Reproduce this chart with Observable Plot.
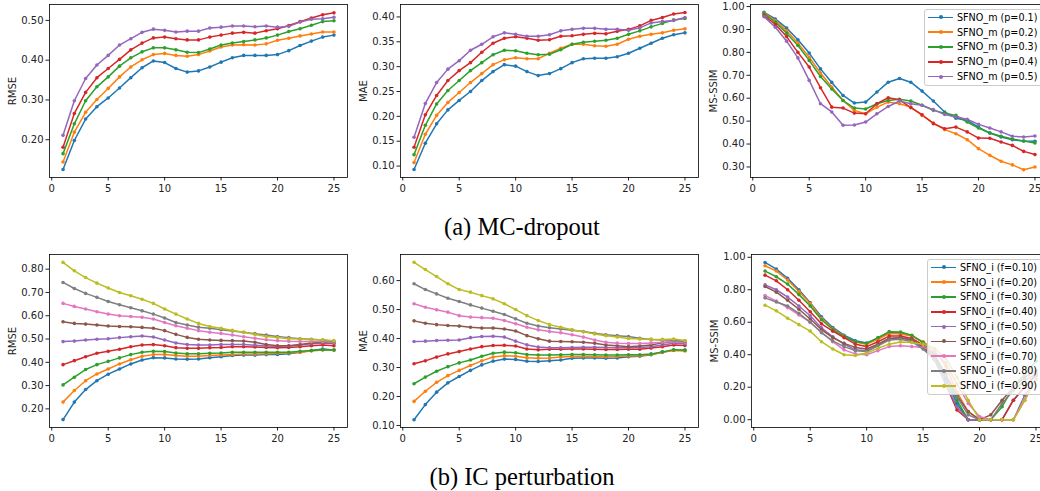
<!DOCTYPE html>
<html>
<head>
<meta charset="utf-8">
<script src="https://cdn.jsdelivr.net/npm/d3@7"></script>
<script src="https://cdn.jsdelivr.net/npm/@observablehq/plot@0.6"></script>
<style>
  html, body { margin: 0; padding: 0; background: #fff; }
  #fig { position: relative; width: 1040px; height: 491px; overflow: hidden; background: #fff; }
  .panel { position: absolute; }
  .legend { position: absolute; background: rgba(255,255,255,0.8); border: 1px solid #cccccc; border-radius: 3px;
            padding: 0px 12px 1px 3px; font-family: "DejaVu Sans", sans-serif; font-size: 9.6px; color: #000; }
  .lrow { display: flex; align-items: center; height: 14.8px; white-space: nowrap; }
  .sw { position: relative; width: 25px; height: 0; margin-right: 4px; flex: none; }
  .sw .ln { position: absolute; left: 0; right: 0; top: -0.75px; height: 1.6px; }
  .sw .dt { position: absolute; left: 10.5px; top: -2px; width: 4px; height: 4px; border-radius: 50%; }
  .cap { position: absolute; width: 1040px; text-align: center; font-family: "Liberation Serif", "Times New Roman", serif; font-size: 24.5px; color: #000; }
</style>
</head>
<body>
<div id="fig"></div>
<script>
const steps = [1,2,3,4,5,6,7,8,9,10,11,12,13,14,15,16,17,18,19,20,21,22,23,24,25];
const colors = ["#1f77b4","#ff7f0e","#2ca02c","#d62728","#9467bd","#8c564b","#e377c2","#7f7f7f","#bcbd22"];
const mcLabels = ["SFNO_m (p=0.1)","SFNO_m (p=0.2)","SFNO_m (p=0.3)","SFNO_m (p=0.4)","SFNO_m (p=0.5)"];
const icLabels = ["SFNO_i (f=0.10)","SFNO_i (f=0.20)","SFNO_i (f=0.30)","SFNO_i (f=0.40)","SFNO_i (f=0.50)","SFNO_i (f=0.60)","SFNO_i (f=0.70)","SFNO_i (f=0.80)","SFNO_i (f=0.90)"];
const captionA = "(a) MC-dropout";
const captionB = "(b) IC perturbation";

// (a) MC-dropout
const mcRMSE = [
  [0.125,0.198,0.252,0.283,0.305,0.330,0.356,0.381,0.398,0.394,0.379,0.370,0.373,0.383,0.395,0.406,0.412,0.412,0.412,0.414,0.424,0.437,0.448,0.458,0.463],
  [0.144,0.219,0.269,0.301,0.329,0.358,0.383,0.401,0.414,0.417,0.412,0.410,0.414,0.423,0.433,0.438,0.439,0.438,0.441,0.450,0.455,0.461,0.466,0.471,0.471],
  [0.165,0.240,0.298,0.333,0.358,0.385,0.406,0.421,0.431,0.431,0.426,0.420,0.419,0.428,0.438,0.443,0.447,0.451,0.456,0.463,0.472,0.479,0.488,0.497,0.499],
  [0.181,0.266,0.319,0.356,0.379,0.402,0.426,0.443,0.456,0.458,0.454,0.451,0.451,0.458,0.463,0.468,0.470,0.468,0.474,0.479,0.487,0.497,0.506,0.514,0.519],
  [0.211,0.298,0.354,0.388,0.412,0.438,0.454,0.470,0.478,0.475,0.471,0.473,0.473,0.481,0.483,0.486,0.486,0.484,0.486,0.483,0.485,0.496,0.503,0.504,0.508]
];
const mcMAE = [
  [0.093,0.146,0.185,0.213,0.232,0.250,0.272,0.290,0.304,0.301,0.290,0.282,0.286,0.296,0.308,0.316,0.317,0.317,0.320,0.327,0.337,0.347,0.357,0.364,0.368],
  [0.107,0.164,0.202,0.228,0.248,0.268,0.286,0.304,0.314,0.318,0.316,0.316,0.327,0.337,0.345,0.345,0.342,0.341,0.345,0.355,0.361,0.365,0.368,0.373,0.376],
  [0.123,0.182,0.225,0.252,0.272,0.292,0.308,0.324,0.333,0.332,0.327,0.324,0.325,0.334,0.345,0.349,0.351,0.353,0.357,0.365,0.372,0.380,0.387,0.394,0.397],
  [0.138,0.203,0.242,0.272,0.292,0.308,0.329,0.347,0.357,0.360,0.357,0.353,0.354,0.361,0.362,0.365,0.367,0.366,0.371,0.375,0.382,0.393,0.399,0.406,0.409],
  [0.158,0.226,0.268,0.295,0.312,0.333,0.345,0.360,0.368,0.365,0.361,0.361,0.364,0.372,0.375,0.377,0.377,0.375,0.375,0.373,0.378,0.388,0.391,0.393,0.399]
];
const mcSSIM = [
  [0.975,0.946,0.906,0.855,0.797,0.728,0.669,0.612,0.579,0.583,0.627,0.670,0.686,0.670,0.631,0.588,0.540,0.513,0.503,0.474,0.448,0.431,0.419,0.413,0.412],
  [0.971,0.939,0.895,0.840,0.779,0.710,0.649,0.590,0.547,0.532,0.561,0.583,0.576,0.561,0.525,0.492,0.463,0.445,0.419,0.380,0.351,0.325,0.309,0.288,0.300],
  [0.968,0.932,0.884,0.830,0.765,0.695,0.640,0.590,0.557,0.553,0.576,0.590,0.595,0.588,0.569,0.547,0.535,0.525,0.496,0.470,0.448,0.434,0.422,0.413,0.405],
  [0.961,0.922,0.869,0.800,0.736,0.646,0.561,0.557,0.535,0.532,0.576,0.602,0.593,0.559,0.528,0.489,0.467,0.474,0.453,0.426,0.425,0.409,0.394,0.368,0.354],
  [0.956,0.910,0.849,0.776,0.678,0.576,0.540,0.482,0.483,0.496,0.532,0.564,0.588,0.576,0.569,0.550,0.529,0.518,0.508,0.486,0.470,0.453,0.434,0.431,0.435]
];

// (b) IC perturbation
const icRMSE = [
  [0.154,0.229,0.283,0.321,0.349,0.371,0.393,0.410,0.420,0.419,0.414,0.413,0.414,0.420,0.424,0.429,0.431,0.431,0.433,0.434,0.437,0.443,0.451,0.457,0.453],
  [0.229,0.279,0.321,0.350,0.371,0.393,0.411,0.426,0.433,0.433,0.429,0.426,0.426,0.429,0.431,0.434,0.436,0.436,0.437,0.439,0.440,0.443,0.449,0.453,0.453],
  [0.303,0.336,0.369,0.390,0.404,0.419,0.433,0.443,0.447,0.446,0.440,0.437,0.437,0.439,0.440,0.443,0.443,0.443,0.443,0.443,0.443,0.447,0.451,0.454,0.453],
  [0.390,0.407,0.424,0.439,0.447,0.456,0.467,0.474,0.476,0.471,0.463,0.460,0.460,0.463,0.464,0.467,0.467,0.466,0.464,0.463,0.464,0.467,0.471,0.474,0.471],
  [0.489,0.491,0.496,0.499,0.501,0.506,0.510,0.513,0.509,0.496,0.483,0.476,0.474,0.474,0.476,0.477,0.476,0.473,0.470,0.469,0.470,0.474,0.480,0.483,0.481],
  [0.574,0.567,0.564,0.560,0.556,0.554,0.553,0.550,0.546,0.536,0.520,0.507,0.499,0.496,0.494,0.493,0.491,0.486,0.476,0.471,0.471,0.476,0.483,0.486,0.483],
  [0.653,0.640,0.629,0.617,0.607,0.600,0.597,0.593,0.586,0.571,0.557,0.546,0.536,0.529,0.524,0.517,0.510,0.503,0.497,0.493,0.490,0.489,0.489,0.489,0.486],
  [0.743,0.717,0.696,0.679,0.661,0.647,0.634,0.621,0.607,0.590,0.571,0.560,0.551,0.546,0.540,0.534,0.529,0.523,0.517,0.511,0.506,0.501,0.499,0.496,0.489],
  [0.829,0.793,0.764,0.740,0.719,0.700,0.686,0.671,0.653,0.629,0.607,0.586,0.567,0.554,0.546,0.537,0.529,0.519,0.511,0.506,0.501,0.500,0.497,0.497,0.493]
];
const icMAE = [
  [0.120,0.172,0.215,0.247,0.269,0.290,0.309,0.322,0.329,0.328,0.322,0.321,0.323,0.326,0.332,0.333,0.333,0.332,0.333,0.337,0.339,0.344,0.353,0.360,0.360],
  [0.183,0.218,0.249,0.272,0.290,0.307,0.323,0.336,0.341,0.339,0.334,0.332,0.333,0.336,0.338,0.339,0.338,0.337,0.338,0.340,0.341,0.345,0.353,0.359,0.357],
  [0.244,0.267,0.287,0.303,0.316,0.326,0.339,0.349,0.353,0.351,0.345,0.343,0.343,0.344,0.345,0.345,0.344,0.343,0.343,0.344,0.344,0.347,0.354,0.361,0.360],
  [0.313,0.323,0.336,0.347,0.355,0.364,0.372,0.376,0.377,0.374,0.364,0.361,0.363,0.363,0.364,0.364,0.363,0.362,0.362,0.363,0.363,0.367,0.372,0.378,0.376],
  [0.390,0.391,0.393,0.394,0.395,0.403,0.407,0.408,0.405,0.391,0.378,0.371,0.368,0.368,0.369,0.370,0.370,0.369,0.368,0.368,0.369,0.372,0.378,0.384,0.382],
  [0.461,0.453,0.448,0.445,0.443,0.439,0.436,0.436,0.433,0.426,0.410,0.399,0.391,0.390,0.389,0.387,0.384,0.378,0.375,0.372,0.374,0.378,0.385,0.390,0.387],
  [0.520,0.508,0.499,0.491,0.479,0.474,0.472,0.470,0.462,0.451,0.439,0.430,0.424,0.420,0.413,0.405,0.395,0.387,0.384,0.383,0.383,0.385,0.387,0.390,0.387],
  [0.589,0.569,0.554,0.539,0.528,0.516,0.505,0.494,0.483,0.468,0.453,0.443,0.437,0.433,0.429,0.424,0.418,0.413,0.410,0.407,0.401,0.397,0.395,0.394,0.391],
  [0.663,0.638,0.614,0.589,0.569,0.560,0.548,0.537,0.520,0.500,0.479,0.462,0.448,0.439,0.430,0.423,0.416,0.410,0.405,0.400,0.398,0.397,0.397,0.398,0.393]
];
const icSSIM = [
  [0.968,0.927,0.870,0.800,0.720,0.634,0.568,0.520,0.486,0.472,0.500,0.537,0.533,0.517,0.476,0.400,0.250,0.100,0.000,0.000,0.000,0.000,0.120,0.200,0.270],
  [0.948,0.915,0.860,0.790,0.715,0.625,0.560,0.515,0.478,0.465,0.495,0.530,0.528,0.515,0.480,0.430,0.330,0.170,0.050,0.000,0.000,0.000,0.000,0.120,0.250],
  [0.915,0.880,0.835,0.770,0.700,0.615,0.555,0.512,0.480,0.470,0.505,0.542,0.540,0.520,0.475,0.400,0.280,0.120,0.000,0.000,0.000,0.080,0.200,0.280,0.360],
  [0.890,0.855,0.800,0.735,0.665,0.590,0.545,0.505,0.465,0.450,0.480,0.515,0.515,0.500,0.460,0.380,0.220,0.060,0.000,0.000,0.000,0.000,0.120,0.200,0.280],
  [0.830,0.800,0.755,0.700,0.640,0.565,0.510,0.465,0.430,0.425,0.460,0.500,0.505,0.490,0.450,0.370,0.220,0.080,0.000,0.000,0.000,0.000,0.000,0.150,0.250],
  [0.820,0.785,0.735,0.680,0.620,0.555,0.505,0.470,0.445,0.435,0.465,0.500,0.505,0.490,0.445,0.380,0.280,0.150,0.050,0.000,0.030,0.120,0.200,0.260,0.300],
  [0.765,0.730,0.690,0.645,0.600,0.540,0.480,0.430,0.405,0.400,0.425,0.450,0.455,0.450,0.445,0.420,0.350,0.220,0.100,0.020,0.000,0.000,0.000,0.120,0.250],
  [0.750,0.725,0.700,0.655,0.600,0.535,0.485,0.450,0.425,0.420,0.455,0.490,0.495,0.480,0.435,0.370,0.270,0.140,0.030,0.000,0.000,0.100,0.180,0.240,0.280],
  [0.705,0.670,0.625,0.585,0.545,0.480,0.435,0.400,0.395,0.410,0.440,0.465,0.478,0.475,0.465,0.440,0.380,0.260,0.120,0.000,0.000,0.000,0.000,0.120,0.250]
];

const xTicks = [0,5,10,15,20,25];
const fig = document.getElementById("fig");

function panel(series, labels, yLabel, yDomain, yTicks, frameLeft, frameTop) {
  const rows = series.flatMap((s, i) => s.map((v, j) => ({x: steps[j], y: v, k: labels[i]})));
  const svg = Plot.plot({
    width: 353, height: 203,
    marginLeft: 50, marginRight: 5, marginTop: 5, marginBottom: 25,
    style: {fontFamily: "DejaVu Sans, sans-serif", fontSize: "10px", color: "#222", background: "transparent", overflow: "visible"},
    x: {domain: [-0.2, 26.2], ticks: xTicks, tickFormat: d => String(d), tickSize: 3.5, tickPadding: 4, label: null},
    y: {domain: yDomain, ticks: yTicks, tickFormat: ".2f", tickSize: 3.5, tickPadding: 2.5,
        label: yLabel, labelAnchor: "center", labelArrow: "none", labelOffset: 41},
    color: {domain: labels, range: colors.slice(0, labels.length)},
    marks: [
      Plot.line(rows, {x: "x", y: "y", z: "k", stroke: "k", strokeWidth: 1.5}),
      Plot.dot(rows, {x: "x", y: "y", fill: "k", r: 1.8}),
      Plot.frame({stroke: "#000", strokeWidth: 0.8})
    ]
  });
  svg.classList.add("panel");
  svg.style.left = (frameLeft - 50) + "px";
  svg.style.top = (frameTop - 5) + "px";
  fig.appendChild(svg);
}

function legend(labels, left, top) {
  const div = document.createElement("div");
  div.className = "legend";
  div.style.left = left + "px";
  div.style.top = top + "px";
  labels.forEach((l, i) => {
    const row = document.createElement("div");
    row.className = "lrow";
    row.innerHTML = `<span class="sw"><span class="ln" style="background:${colors[i]}"></span><span class="dt" style="background:${colors[i]}"></span></span><span>${l}</span>`;
    div.appendChild(row);
  });
  fig.appendChild(div);
}

function caption(text, top) {
  const div = document.createElement("div");
  div.className = "cap";
  div.style.left = "2px";
  div.style.top = top + "px";
  div.textContent = text;
  fig.appendChild(div);
}

panel(mcRMSE, mcLabels, "RMSE", [0.105, 0.540], [0.2,0.3,0.4,0.5], 49, 4);
panel(mcMAE, mcLabels, "MAE", [0.077, 0.425], [0.10,0.15,0.20,0.25,0.30,0.35,0.40], 400, 4);
panel(mcSSIM, mcLabels, "MS-SSIM", [0.254, 1.009], [0.3,0.4,0.5,0.6,0.7,0.8,0.9,1.0], 750, 4);
panel(icRMSE, icLabels, "RMSE", [0.120, 0.863], [0.2,0.3,0.4,0.5,0.6,0.7,0.8], 49, 254);
panel(icMAE, icLabels, "MAE", [0.093, 0.690], [0.1,0.2,0.3,0.4,0.5,0.6], 400, 254);
panel(icSSIM, icLabels, "MS-SSIM", [-0.048, 1.017], [0,0.2,0.4,0.6,0.8,1.0], 751, 254);

legend(mcLabels, 924, 9);
legend(icLabels, 927, 259);

caption(captionA, 213);
caption(captionB, 463);
</script>
</body>
</html>
